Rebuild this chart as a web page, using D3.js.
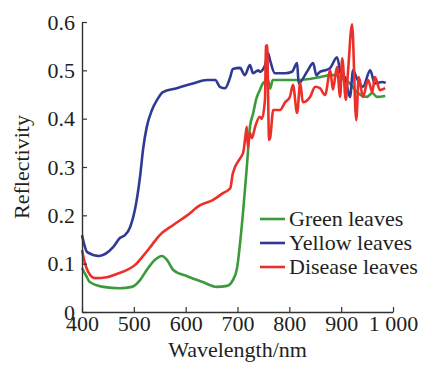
<!DOCTYPE html>
<html>
<head>
<meta charset="utf-8">
<script src="https://cdn.jsdelivr.net/npm/d3@7"></script>
<style>
  body { margin: 0; background: #fff; }
  text { font-family: "Liberation Serif", "Times New Roman", serif; fill: #231f20; }
</style>
</head>
<body>
<svg id="chart"></svg>
<script>
const xTicks = [400, 500, 600, 700, 800, 900, 1000];
const xTickLabels = ["400", "500", "600", "700", "800", "900", "1 000"];
const yTicks = [0, 0.1, 0.2, 0.3, 0.4, 0.5, 0.6];
const yTickLabels = ["0", "0.1", "0.2", "0.3", "0.4", "0.5", "0.6"];
const seriesNames = ["Green leaves", "Yellow leaves", "Disease leaves"];

const greenWl = [400, 408, 415, 441, 473, 496, 512, 525, 541, 554, 564, 576, 603, 633, 660, 680, 691, 699, 705, 711, 718, 724, 730, 736, 743, 749, 759, 763, 768, 776, 815, 859, 880, 889, 903, 915, 930, 950, 960, 969, 985];
const greenR = [0.091, 0.075, 0.062, 0.052, 0.049, 0.052, 0.066, 0.087, 0.108, 0.116, 0.108, 0.087, 0.074, 0.062, 0.052, 0.054, 0.066, 0.090, 0.143, 0.210, 0.300, 0.383, 0.410, 0.440, 0.459, 0.473, 0.480, 0.462, 0.480, 0.480, 0.480, 0.486, 0.490, 0.490, 0.482, 0.475, 0.455, 0.445, 0.453, 0.445, 0.447];

const yellowWl = [400, 410, 433, 460, 473, 483, 493, 502, 512, 518, 525, 535, 545, 556, 583, 614, 641, 657, 666, 676, 686, 691, 705, 714, 724, 730, 740, 743, 753, 759, 763, 772, 792, 805, 815, 818, 834, 846, 852, 859, 869, 879, 892, 900, 907, 917, 923, 930, 942, 956, 965, 979, 986];
const yellowR = [0.159, 0.124, 0.116, 0.134, 0.153, 0.159, 0.176, 0.211, 0.280, 0.338, 0.383, 0.418, 0.439, 0.455, 0.463, 0.473, 0.480, 0.480, 0.466, 0.463, 0.486, 0.503, 0.505, 0.490, 0.511, 0.494, 0.500, 0.497, 0.510, 0.535, 0.520, 0.494, 0.494, 0.497, 0.515, 0.473, 0.497, 0.515, 0.490, 0.497, 0.500, 0.505, 0.527, 0.490, 0.486, 0.445, 0.500, 0.484, 0.466, 0.500, 0.473, 0.476, 0.474];

const diseaseWl = [400, 406, 412, 425, 448, 468, 487, 502, 518, 535, 550, 576, 603, 628, 653, 672, 686, 691, 705, 711, 716, 718, 720, 724, 728, 734, 743, 747, 753, 755, 757, 761, 763, 769, 782, 792, 801, 807, 815, 821, 826, 840, 850, 859, 869, 879, 884, 892, 898, 902, 909, 913, 921, 929, 934, 942, 952, 960, 965, 975, 985];
const diseaseR = [0.128, 0.100, 0.083, 0.070, 0.072, 0.079, 0.087, 0.097, 0.116, 0.139, 0.159, 0.180, 0.200, 0.221, 0.232, 0.246, 0.256, 0.287, 0.318, 0.330, 0.370, 0.383, 0.340, 0.370, 0.360, 0.383, 0.404, 0.400, 0.440, 0.550, 0.552, 0.356, 0.360, 0.418, 0.418, 0.434, 0.445, 0.470, 0.412, 0.474, 0.434, 0.445, 0.466, 0.463, 0.449, 0.500, 0.460, 0.507, 0.445, 0.525, 0.439, 0.494, 0.595, 0.397, 0.486, 0.445, 0.480, 0.455, 0.486, 0.459, 0.463];

const width = 421, height = 365;
const margin = { top: 22, right: 28, bottom: 53, left: 82 };

const svg = d3.select("#chart")
  .attr("width", width)
  .attr("height", height);

const x = d3.scaleLinear().domain([400, 1000]).range([margin.left, width - margin.right]);
const y = d3.scaleLinear().domain([0, 0.6]).range([height - margin.bottom, margin.top]);

const series = [
  { name: seriesNames[0], wl: greenWl, r: greenR, color: "#3b9a3c" },
  { name: seriesNames[1], wl: yellowWl, r: yellowR, color: "#2f3b93" },
  { name: seriesNames[2], wl: diseaseWl, r: diseaseR, color: "#ec3029" }
];

const line = d3.line()
  .x(d => x(d[0]))
  .y(d => y(d[1]))
  .curve(d3.curveMonotoneX);

svg.selectAll(".series")
  .data(series)
  .enter()
  .append("path")
  .attr("class", "series")
  .attr("fill", "none")
  .attr("stroke", d => d.color)
  .attr("stroke-width", 2.6)
  .attr("stroke-linejoin", "round")
  .attr("d", d => line(d.wl.map((w, i) => [w, d.r[i]])));

// axes, ticks point inward
const xAxis = svg.append("g")
  .attr("transform", "translate(0," + (height - margin.bottom) + ")")
  .call(d3.axisBottom(x).tickValues(xTicks)
    .tickFormat((d, i) => xTickLabels[i])
    .tickSizeInner(-5).tickSizeOuter(0).tickPadding(3));

const yAxis = svg.append("g")
  .attr("transform", "translate(" + margin.left + ",0)")
  .call(d3.axisLeft(y).tickValues(yTicks)
    .tickFormat((d, i) => yTickLabels[i])
    .tickSizeInner(-5).tickSizeOuter(0).tickPadding(7));

[xAxis, yAxis].forEach(g => {
  g.select(".domain").attr("stroke", "#333").attr("stroke-width", 1.4);
  g.selectAll(".tick line").attr("stroke", "#333").attr("stroke-width", 1.2);
  g.selectAll(".tick text")
    .attr("font-size", 22)
    .attr("font-family", "Liberation Serif, serif")
    .attr("fill", "#231f20");
});

svg.append("text")
  .attr("x", (margin.left + width - margin.right) / 2)
  .attr("y", 357)
  .attr("text-anchor", "middle")
  .attr("font-size", 22)
  .text("Wavelength/nm");

svg.append("text")
  .attr("transform", "translate(29," + ((margin.top + height - margin.bottom) / 2) + ") rotate(-90)")
  .attr("text-anchor", "middle")
  .attr("font-size", 22)
  .text("Reflectivity");

// legend
const legend = svg.append("g");
const legendRows = legend.selectAll("g")
  .data(series)
  .enter()
  .append("g")
  .attr("transform", (d, i) => "translate(260," + (219 + i * 24) + ")");

legendRows.append("line")
  .attr("x1", 0).attr("x2", 25)
  .attr("stroke", d => d.color)
  .attr("stroke-width", 2.6);

legendRows.append("text")
  .attr("x", 29)
  .attr("y", 7)
  .attr("font-size", 22)
  .text(d => d.name);
</script>
</body>
</html>
